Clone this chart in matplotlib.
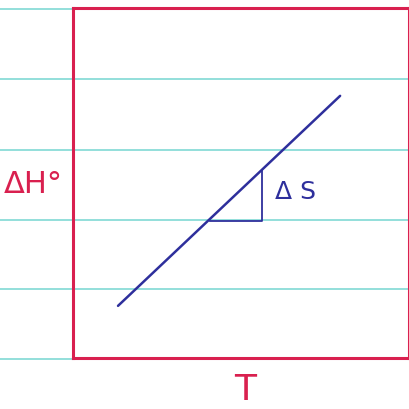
import matplotlib
matplotlib.use("Agg")
import matplotlib.pyplot as plt
from matplotlib.lines import Line2D
import numpy as np

# Straight-line sketch of dH vs T (normalised axis units)
T_vals = [0.134, 0.795]
dH_vals = [0.149, 0.749]

# Slope triangle: horizontal run along T, rise up to the line
tri_T = [0.408, 0.5625]

# Ruled notebook lines (figure pixel rows from the top)
rule_rows = [8.5, 79, 150, 220, 289, 359]

W, H = 410, 409
fig = plt.figure(figsize=(W / 100, H / 100), dpi=100)
fig.patch.set_facecolor("white")

rule_color = "#8adcd8"
red = "#d9204f"
blue = "#2e2f9c"

for r in rule_rows:
    y = 1 - r / H
    fig.add_artist(Line2D([0, 1], [y, y], transform=fig.transFigure,
                          color=rule_color, lw=1.3, zorder=0))

left, right, top, bottom = 73, 409, 8, 358
ax = fig.add_axes([left / W, 1 - bottom / H, (right - left) / W, (bottom - top) / H])
ax.set_facecolor("none")
ax.set_xlim(0, 1)
ax.set_ylim(0, 1)
ax.set_xticks([])
ax.set_yticks([])
for s in ax.spines.values():
    s.set_color(red)
    s.set_linewidth(2.2)

ax.plot(T_vals, dH_vals, color=blue, lw=1.8, solid_capstyle="round")

slope = (dH_vals[1] - dH_vals[0]) / (T_vals[1] - T_vals[0])
y_lo = dH_vals[0] + slope * (tri_T[0] - T_vals[0]) - 0.007
y_hi = dH_vals[0] + slope * (tri_T[1] - T_vals[0])
ax.plot([tri_T[0], tri_T[1], tri_T[1]], [y_lo, y_lo, y_hi], color=blue, lw=1.3)

ax.text(tri_T[1] + 0.04, (y_lo + y_hi) / 2 + 0.01, "Δ S", color=blue,
        fontsize=18, va="center", ha="left", family="DejaVu Sans")

fig.text(4 / W, 1 - 185 / H, "ΔH°", color=red, fontsize=22,
         va="center", ha="left", family="DejaVu Sans")
fig.text(245 / W, 1 - 390 / H, "T", color=red, fontsize=26,
         va="center", ha="center", family="DejaVu Sans")

fig.savefig("out.png", dpi=100, facecolor="white")
